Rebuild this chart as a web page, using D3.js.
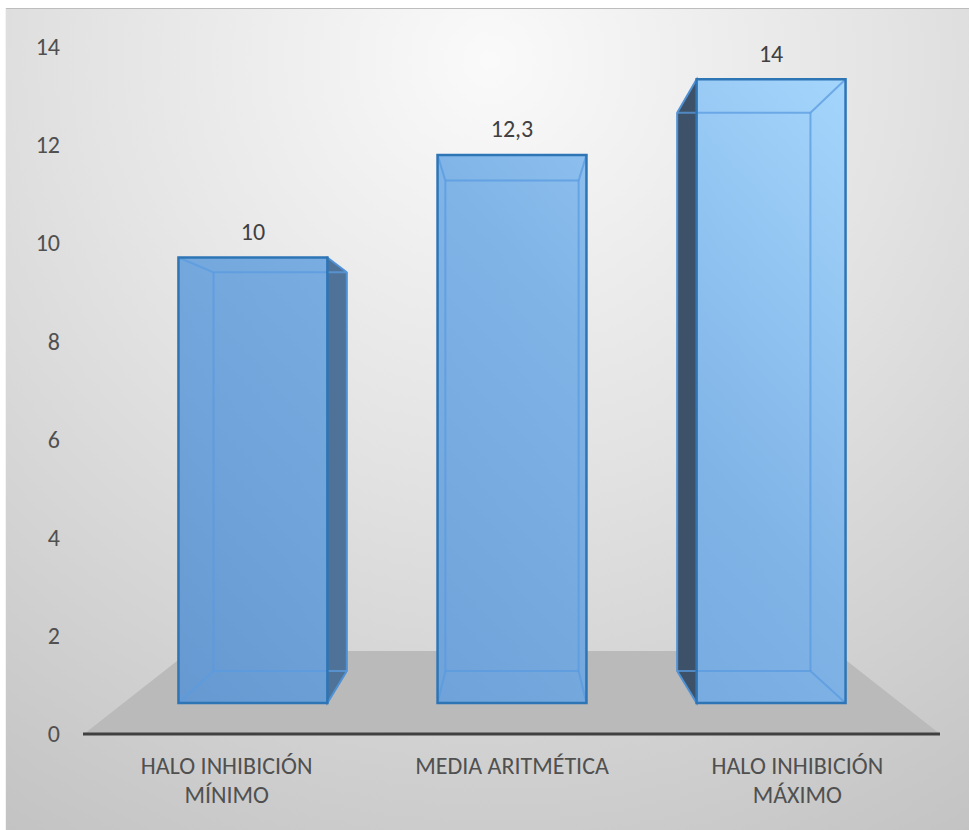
<!DOCTYPE html>
<html><head><meta charset="utf-8">
<script src="https://cdn.jsdelivr.net/npm/d3@7"></script>
<style>html,body{margin:0;padding:0;background:#fff;} svg{display:block;}</style>
</head><body><svg id="chart" width="969" height="830"></svg>
<script>
// Inhibition halo results
const categories = ["HALO INHIBICIÓN MÍNIMO", "MEDIA ARITMÉTICA", "HALO INHIBICIÓN MÁXIMO"];
const categoryLines = [["HALO INHIBICIÓN", "MÍNIMO"], ["MEDIA ARITMÉTICA"], ["HALO INHIBICIÓN", "MÁXIMO"]];
const values = [10, 12.3, 14];
const yTicks = [0, 2, 4, 6, 8, 10, 12, 14];

const W = 969, H = 830;
const FONT = "Carlito, Calibri, Lato, sans-serif";
const FS = 24;
const svg = d3.select("#chart");
const defs = svg.append("defs");

// chart area background: soft radial grey
const bg = defs.append("radialGradient").attr("id", "bgGrad")
  .attr("gradientUnits", "userSpaceOnUse")
  .attr("cx", 490).attr("cy", 60).attr("r", 910);
bg.append("stop").attr("offset", 0).attr("stop-color", "#fafafa");
bg.append("stop").attr("offset", 0.45).attr("stop-color", "#e3e3e3");
bg.append("stop").attr("offset", 1).attr("stop-color", "#c3c3c3");

// column fill: darker lower-left, lighter upper-right
const barGrad = defs.append("linearGradient").attr("id", "barGrad")
  .attr("gradientUnits", "userSpaceOnUse")
  .attr("x1", 150).attr("y1", 700).attr("x2", 850).attr("y2", 60);
barGrad.append("stop").attr("offset", 0).attr("stop-color", "#6598d0");
barGrad.append("stop").attr("offset", 0.6).attr("stop-color", "#80b4e7");
barGrad.append("stop").attr("offset", 1).attr("stop-color", "#a6d7fd");

svg.append("rect").attr("width", W).attr("height", H).attr("fill", "#ffffff");
svg.append("rect").attr("x", 5).attr("y", 8).attr("width", W).attr("height", H)
  .attr("fill", "url(#bgGrad)");
svg.append("line").attr("x1", 5).attr("x2", W).attr("y1", 8.5).attr("y2", 8.5)
  .attr("stroke", "#bdbdbd").attr("stroke-width", 1);
svg.append("line").attr("x1", 5.5).attr("x2", 5.5).attr("y1", 8).attr("y2", H)
  .attr("stroke", "#f4f4f4").attr("stroke-width", 1);

// scales on the front plane
const x = d3.scaleBand().domain(categories).range([84, 940])
  .paddingInner(0.4252).paddingOuter(0.2126);
const y = d3.scaleLinear().domain([0, 14]).range([734, 47]);

// one-point perspective
const vp = { x: 512, y: 398 };
const floorDepth = 0.328, barFront = 0.1013, barBack = 0.2308;
const project = (px, py, z) => [vp.x + (px - vp.x) / (1 + z), vp.y + (py - vp.y) / (1 + z)];
const poly = pts => pts.map(p => p.join(",")).join(" ");

// floor
const [x0, x1] = x.range();
const floorPts = [project(x0, y(0), 0), project(x1, y(0), 0),
  project(x1, y(0), floorDepth), project(x0, y(0), floorDepth)];
svg.append("polygon").attr("points", poly(floorPts)).attr("fill", "#bababa");

// columns as transparent boxes
const fmt = d3.formatLocale({ decimal: ",", thousands: ".", grouping: [3], currency: ["", "€"] }).format(".3~g");
const bars = svg.append("g");
categories.forEach((c, i) => {
  const v = values[i];
  const L = x(c), R = x(c) + x.bandwidth();
  const T = y(v), B = y(0);
  const f = { tl: project(L, T, barFront), tr: project(R, T, barFront), br: project(R, B, barFront), bl: project(L, B, barFront) };
  const b = { tl: project(L, T, barBack), tr: project(R, T, barBack), br: project(R, B, barBack), bl: project(L, B, barBack) };
  const g = bars.append("g");
  const cx = (L + R) / 2;
  // visible side face
  if (cx < vp.x - 5) {
    g.append("polygon").attr("points", poly([f.tr, b.tr, b.br, f.br]))
      .attr("fill", "#4f7398").attr("stroke", "#2e75b6").attr("stroke-width", 1.5);
  } else if (cx > vp.x + 5) {
    g.append("polygon").attr("points", poly([f.tl, b.tl, b.bl, f.bl]))
      .attr("fill", "#3d5268").attr("stroke", "#2e75b6").attr("stroke-width", 1.5);
  }
  // front face
  g.append("polygon").attr("points", poly([f.tl, f.tr, f.br, f.bl]))
    .attr("fill", "url(#barGrad)");
  // hidden edges seen through the glass
  const inner = [[b.tl, b.tr], [b.tr, b.br], [b.br, b.bl], [b.bl, b.tl],
    [f.tl, b.tl], [f.tr, b.tr], [f.br, b.br], [f.bl, b.bl]];
  inner.forEach(([p, q]) => {
    g.append("line").attr("x1", p[0]).attr("y1", p[1]).attr("x2", q[0]).attr("y2", q[1])
      .attr("stroke", "#5a9be0").attr("stroke-width", 2).attr("stroke-opacity", 0.75);
  });
  // front outline
  g.append("polygon").attr("points", poly([f.tl, f.tr, f.br, f.bl]))
    .attr("fill", "none").attr("stroke", "#2e75b6").attr("stroke-width", 2.5);
  // value label
  g.append("text").attr("x", (f.tl[0] + f.tr[0]) / 2).attr("y", f.tl[1] - 26)
    .attr("dy", "0.35em").attr("text-anchor", "middle")
    .attr("font-family", FONT).attr("font-size", FS).attr("fill", "#404040")
    .text(fmt(v));
});

// category axis line
svg.append("line").attr("x1", 83).attr("x2", 940).attr("y1", y(0)).attr("y2", y(0))
  .attr("stroke", "#404040").attr("stroke-width", 3);

// value axis labels
const yAxis = svg.append("g").attr("transform", "translate(60,0)")
  .call(d3.axisLeft(y).tickValues(yTicks).tickSize(0).tickPadding(0));
yAxis.select(".domain").remove();
yAxis.selectAll("text").attr("font-family", FONT).attr("font-size", FS).attr("fill", "#505050");

// category labels
categories.forEach((c, i) => {
  const t = svg.append("text").attr("text-anchor", "middle")
    .attr("font-family", FONT).attr("font-size", FS).attr("fill", "#505050");
  categoryLines[i].forEach((line, j) => {
    t.append("tspan").attr("x", x(c) + x.bandwidth() / 2).attr("y", 766 + j * 29)
      .attr("dy", "0.35em").text(line);
  });
});
</script></body></html>
